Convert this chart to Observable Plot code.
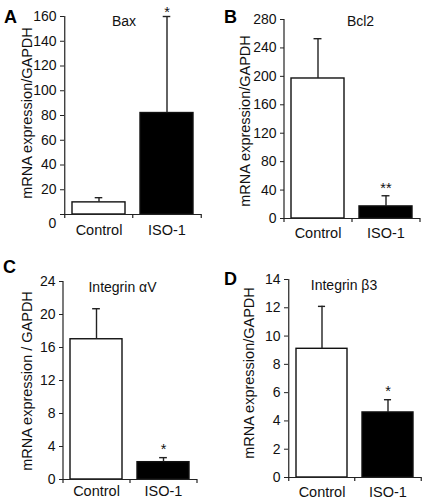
<!DOCTYPE html>
<html><head><meta charset="utf-8">
<script src="https://cdn.jsdelivr.net/npm/d3@7"></script>
<script src="https://cdn.jsdelivr.net/npm/@observablehq/plot@0.6"></script>
<style>
body{margin:0;background:#fff;font-family:"Liberation Sans",Arial,sans-serif;}
#fig{position:relative;width:425px;height:503px;overflow:hidden;background:#fff;}
.panel{position:absolute;}
.letter{position:absolute;font-weight:bold;font-size:18px;color:#000;line-height:1;font-family:"Liberation Sans",Arial,sans-serif;}
.ylab{position:absolute;font-size:14.5px;color:#111;line-height:1;white-space:nowrap;transform:translate(-50%,-50%) rotate(-90deg);font-family:"Liberation Sans",Arial,sans-serif;}
</style></head><body><div id="fig"></div>
<script>
// ---- data ----
const categories = ["Control", "ISO-1"];
const panelLetters = ["A", "B", "C", "D"];
const panelTitles = ["Bax", "Bcl2", "Integrin αV", "Integrin β3"];
const yLabels = ["mRNA expression/GAPDH", "mRNA expression/GAPDH", "mRNA expression / GAPDH", "mRNA expression/GAPDH"];
const baxMean = [9.8, 82];     const baxErr = [3.8, 78];
const bcl2Mean = [197, 17];    const bcl2Err = [56, 15];
const itgavMean = [17, 2.1];   const itgavErr = [3.7, 0.55];
const itgb3Mean = [9.1, 4.6];  const itgb3Err = [3.0, 0.9];
const baxTicks = [0, 20, 40, 60, 80, 100, 120, 140, 160];
const bcl2Ticks = [0, 40, 80, 120, 160, 200, 240, 280];
const itgavTicks = [0, 4, 8, 12, 16, 20, 24];
const itgb3Ticks = [0, 2, 4, 6, 8, 10, 12, 14];
const significance = [["", "*"], ["", "**"], ["", "*"], ["", "*"]];

const means = [baxMean, bcl2Mean, itgavMean, itgb3Mean];
const errs = [baxErr, bcl2Err, itgavErr, itgb3Err];
const yTicks = [baxTicks, bcl2Ticks, itgavTicks, itgb3Ticks];
const barFill = ["white", "black"];

// ---- layout ----
const layout = [
  {left: 0,   top: 0,   w: 212, h: 250, ml: 64, mr: 11, mt: 16, mb: 36, xPad: 10, labX: 27,  labY: 113, titleDx: -9,  titleDy: 0,    starDy: 0.5, zeroShift: true,  lx: 4,   ly: 8},
  {left: 212, top: 0,   w: 213, h: 250, ml: 72, mr: 5,  mt: 19, mb: 32, xPad: 9,  labX: 245, labY: 121, titleDx: 8,   titleDy: -3.5, starDy: -2.5, zeroShift: false, lx: 224, ly: 8},
  {left: 0,   top: 250, w: 212, h: 253, ml: 63, mr: 15, mt: 31, mb: 24, xPad: 6,  labX: 27,  labY: 381, titleDx: -8,  titleDy: 1,    starDy: -4,  zeroShift: false, lx: 3,   ly: 258},
  {left: 212, top: 250, w: 213, h: 253, ml: 76, mr: 4,  mt: 29, mb: 26, xPad: 9,  labX: 249, labY: 373, titleDx: -11, titleDy: 1,    starDy: -4,  zeroShift: false, lx: 224, ly: 270}
];

const fig = document.getElementById("fig");
const ink = "#222";
const font = "'Liberation Sans', Arial, sans-serif";

layout.forEach((L, i) => {
  const rows = categories.map((c, j) => ({
    cat: c, mean: means[i][j], top: means[i][j] + errs[i][j], star: significance[i][j], fill: barFill[j]
  }));
  const yMax = yTicks[i][yTicks[i].length - 1];
  const step = (L.w - L.ml - L.mr) / 2;
  const plotH = L.h - L.mt - L.mb;
  const tickLen = 4 * yMax / plotH;
  const capInset = (step * 0.78 - 8) / 2;

  const chart = Plot.plot({
    width: L.w, height: L.h,
    marginLeft: L.ml, marginRight: L.mr, marginTop: L.mt, marginBottom: L.mb,
    style: {fontFamily: font, background: "transparent", color: "#111", overflow: "visible"},
    x: {domain: categories, paddingInner: 0.22, paddingOuter: 0.11},
    y: {domain: [0, yMax]},
    marks: [
      Plot.barY(rows, {x: "cat", y: "mean", fill: "fill", stroke: "#111", strokeWidth: 1.4}),
      Plot.ruleX(rows, {x: "cat", y1: "mean", y2: "top", stroke: ink, strokeWidth: 1.4}),
      Plot.tickY(rows, {x: "cat", y: "top", stroke: ink, strokeWidth: 1.4, insetLeft: capInset, insetRight: capInset}),
      Plot.text(rows, {x: "cat", y: "top", text: "star", lineAnchor: "bottom", dy: L.starDy, fontSize: 14.5, fill: "#111"}),
      Plot.axisX({tickSize: 0, tickPadding: L.xPad, fontSize: 14.5, label: null}),
      Plot.axisY({ticks: yTicks[i], tickSize: 4, tickPadding: 4, fontSize: 14, label: null, stroke: ink,
        tickFormat: d => (L.zeroShift && d === 0) ? "" : String(d)}),
      // x-axis line
      Plot.ruleY([0], {stroke: ink, strokeWidth: 1.2}),
      // y-axis line (at the left band boundary)
      Plot.ruleX([categories[0]], {y1: 0, y2: yMax, dx: -step / 2, stroke: ink, strokeWidth: 1.2}),
      // boundary ticks on x axis
      Plot.ruleX(categories, {y1: 0, y2: -tickLen, dx: -step / 2, stroke: ink, strokeWidth: 1.2}),
      Plot.ruleX([categories[categories.length - 1]], {y1: 0, y2: -tickLen, dx: step / 2, stroke: ink, strokeWidth: 1.2}),
      // panel title
      Plot.text([panelTitles[i]], {frameAnchor: "top", dx: L.titleDx, dy: L.titleDy, fontSize: 14, fill: "#111"}),
      // displaced zero label (panel A)
      L.zeroShift ? Plot.text(["0"], {frameAnchor: "bottom-left", dx: -12, dy: 13, textAnchor: "middle", fontSize: 14, fill: "#111"}) : null
    ]
  });
  const wrap = document.createElement("div");
  wrap.className = "panel";
  wrap.style.left = L.left + "px";
  wrap.style.top = L.top + "px";
  wrap.appendChild(chart);
  fig.appendChild(wrap);

  const ylab = document.createElement("div");
  ylab.className = "ylab";
  ylab.textContent = yLabels[i];
  ylab.style.left = L.labX + "px";
  ylab.style.top = L.labY + "px";
  fig.appendChild(ylab);

  const letter = document.createElement("div");
  letter.className = "letter";
  letter.textContent = panelLetters[i];
  letter.style.left = L.lx + "px";
  letter.style.top = L.ly + "px";
  fig.appendChild(letter);
});
</script>
</body></html>
